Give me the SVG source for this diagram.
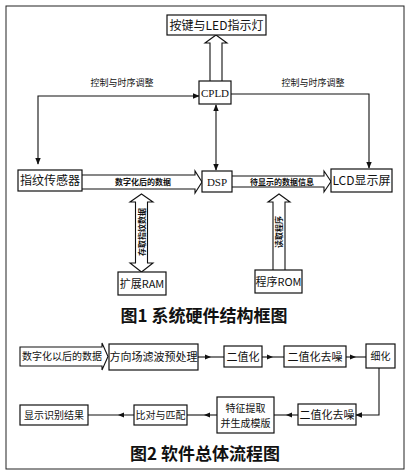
<svg xmlns="http://www.w3.org/2000/svg" width="409" height="476" viewBox="0 0 409 476">
<defs>
<style>
.bx{fill:#fff;stroke:#111;stroke-width:1.2}
.ln{fill:none;stroke:#111;stroke-width:1.1}
.ha{fill:#fff;stroke:#111;stroke-width:1.1;stroke-linejoin:miter}
.t{font-family:"Liberation Serif","Noto Sans CJK SC",serif;fill:#111;text-anchor:middle}
.c{font-family:"Noto Sans CJK SC",sans-serif;fill:#111;text-anchor:middle}
.s{font-size:8px;font-weight:bold}
.m{font-size:12px}
.ttl{font-size:17px;font-weight:bold}
</style>
<marker id="ah" viewBox="0 0 10 10" refX="9" refY="5" markerWidth="7" markerHeight="7" orient="auto-start-reverse" markerUnits="userSpaceOnUse"><path d="M0,1 L10,5 L0,9 Z" fill="#111"/></marker>
<marker id="mh" viewBox="0 0 10 10" refX="5" refY="5" markerWidth="7" markerHeight="6" orient="auto" markerUnits="userSpaceOnUse"><path d="M0,1 L10,5 L0,9 Z" fill="#111"/></marker>
</defs>
<rect x="6" y="6" width="398" height="463" fill="#fff" stroke="#222" stroke-width="1"/>

<g id="connectors">
<!-- CPLD up to keys hollow arrow -->
<path class="ha" d="M210,81 L210,43 L205,43 L216,35 L227,43 L222,43 L222,81"/>
<!-- control lines -->
<path class="ln" d="M38,164 L38,96 L199,96" marker-start="url(#ah)" marker-end="url(#ah)"/>
<path class="ln" d="M231,94 L369,94 L369,168" marker-end="url(#ah)"/>
<path class="ln" d="M216,105 L216,170" marker-start="url(#ah)" marker-end="url(#ah)"/>
<!-- sensor to DSP hollow arrow -->
<path class="ha" d="M82,175 L195,175 L195,171 L202,182 L195,193 L195,189 L82,189"/>
<!-- DSP to LCD hollow arrow -->
<path class="ha" d="M232,176 L324,176 L324,171 L331,181.5 L324,192 L324,187 L232,187"/>
<!-- RAM double hollow arrow -->
<path class="ha" d="M141.5,194 L153,202 L147.5,202 L147.5,263 L153,263 L141.5,272 L130,263 L135.5,263 L135.5,202 L130,202 Z"/>
<!-- ROM hollow arrow -->
<path class="ha" d="M273,270 L273,202 L268,202 L279,194 L290,202 L285,202 L285,270"/>
<!-- flow chart -->
<path class="ha" d="M20,347 L102,347 L102,343 L108,356.5 L102,370 L102,366 L20,366 Z"/>
<path class="ln" d="M198,357 L208,357 L224,357" marker-mid="url(#mh)"/>
<path class="ln" d="M262,357 L270,357 L284,357" marker-mid="url(#mh)"/>
<path class="ln" d="M346,357 L353,357 L366,357" marker-mid="url(#mh)"/>
<path class="ln" d="M379,368 L379,415 L356,415" marker-end="url(#ah)"/>
<path class="ln" d="M298,415 L289,415 L274,415" marker-mid="url(#mh)"/>
<path class="ln" d="M217,415 L207,415 L187,415" marker-mid="url(#mh)"/>
<path class="ln" d="M134,415 L121,415 L88,415" marker-mid="url(#mh)"/>
</g>

<g id="keys"><rect class="bx" x="167" y="15" width="99" height="20"/><text class="c m" x="216.5" y="30">按键与LED指示灯</text></g>
<g id="cpld"><rect class="bx" x="199" y="81" width="32" height="23"/><text class="t" x="215" y="97" font-size="11">CPLD</text></g>
<g id="lbl1"><text class="c" x="122" y="86" font-size="9">控制与时序调整</text></g>
<g id="lbl2"><text class="c" x="313" y="86" font-size="9">控制与时序调整</text></g>
<g id="sensor"><rect class="bx" x="18" y="170" width="64" height="21"/><text class="c m" x="50" y="185">指纹传感器</text></g>
<g id="dsp"><rect class="bx" x="202" y="171" width="30" height="21"/><text class="t" x="217" y="186" font-size="11">DSP</text></g>
<g id="lcd"><rect class="bx" x="331" y="169" width="61" height="23"/><text class="c m" x="361.5" y="185">LCD显示屏</text></g>
<g id="lbl3"><text class="c s" x="143" y="185">数字化后的数据</text></g>
<g id="lbl4"><text class="c s" x="282" y="185">待显示的数据信息</text></g>
<g id="lbl5"><text class="c s" transform="translate(144.5,232) rotate(-90)">存取指纹数据</text></g>
<g id="lbl6"><text class="c s" transform="translate(282,232) rotate(-90)">读取程序</text></g>
<g id="ram"><rect class="bx" x="118" y="272" width="48" height="23"/><text class="c" x="142" y="288" font-size="11">扩展RAM</text></g>
<g id="rom"><rect class="bx" x="255" y="270" width="47" height="23"/><text class="c" x="278.5" y="286" font-size="11">程序ROM</text></g>
<g id="title1"><text class="c ttl" x="204" y="322">图1 系统硬件结构框图</text></g>

<g id="in"><text class="c" x="62" y="360" font-size="10">数字化以后的数据</text></g>
<g id="pre"><rect class="bx" x="109" y="344" width="89" height="26"/><text class="c" x="153.5" y="361" font-size="11">方向场滤波预处理</text></g>
<g id="bin"><rect class="bx" x="224" y="346" width="38" height="21"/><text class="c" x="243" y="361" font-size="11">二值化</text></g>
<g id="den1"><rect class="bx" x="284" y="346" width="62" height="21"/><text class="c" x="315" y="361" font-size="11">二值化去噪</text></g>
<g id="thin"><rect class="bx" x="366" y="344" width="29" height="24"/><text class="c" x="380.5" y="360" font-size="10">细化</text></g>
<g id="den2"><rect class="bx" x="298" y="404" width="58" height="21"/><text class="c" x="327" y="419" font-size="11">二值化去噪</text></g>
<g id="feat"><rect class="bx" x="217" y="397" width="57" height="36"/><text class="c" x="245.5" y="412" font-size="10">特征提取</text><text class="c" x="245.5" y="427" font-size="10">并生成模版</text></g>
<g id="match"><rect class="bx" x="134" y="405" width="53" height="20"/><text class="c" x="160.5" y="419" font-size="10">比对与匹配</text></g>
<g id="show"><rect class="bx" x="20" y="405" width="68" height="20"/><text class="c" x="54" y="419" font-size="10">显示识别结果</text></g>
<g id="title2"><text class="c ttl" x="205" y="460">图2 软件总体流程图</text></g>
</svg>
